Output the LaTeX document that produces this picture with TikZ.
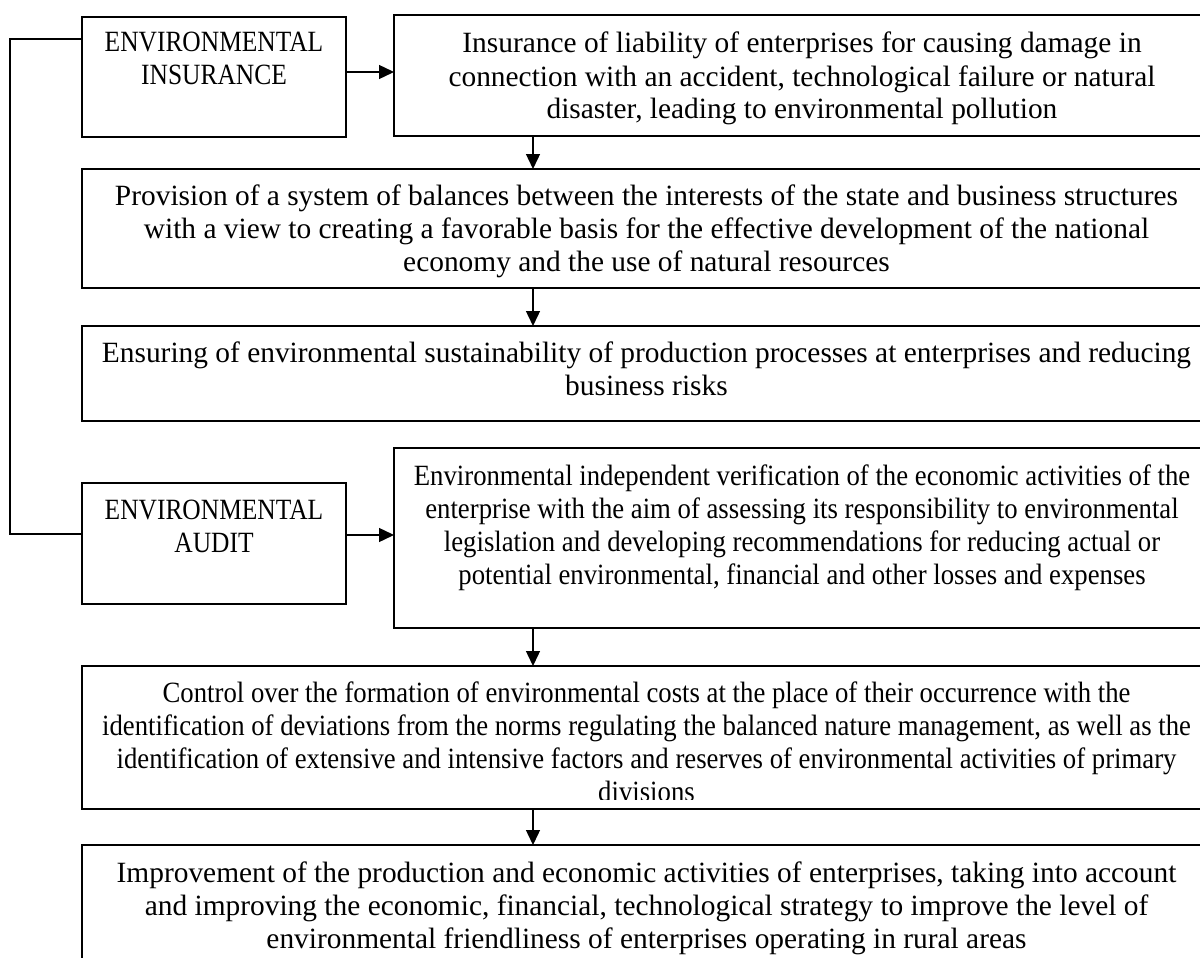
\documentclass[tikz,border=0pt]{standalone}
\usepackage{fontspec}
\setmainfont{Liberation Serif}
\newfontfamily\condfont[FakeStretch=0.909]{Liberation Serif}
\newfontfamily\labelfont[FakeStretch=0.866]{Liberation Serif}
\usetikzlibrary{arrows.meta,calc}
\begin{document}
\begin{tikzpicture}[x=1pt,y=-1pt,
  box/.style={draw,line width=1.4pt,inner sep=0pt,outer sep=0pt,anchor=north west},
  lbl/.style={inner sep=0pt,outer sep=0pt,anchor=base,font=\fontsize{29.4}{33}\selectfont},
  arr/.style={line width=1.4pt,-{Triangle[length=15pt,width=14pt]}},
  conn/.style={line width=1.4pt}]
\useasboundingbox (0,0) rectangle (1200,958);
\setlength{\tabcolsep}{0pt}
% boxes
\node[box,minimum width=264pt,minimum height=120pt] (ins) at (82,17) {};
\node[box,minimum width=816pt,minimum height=121pt] (b1) at (394,15) {};
\node[box,minimum width=1128pt,minimum height=119pt] (b2) at (82,169) {};
\node[box,minimum width=1128pt,minimum height=95pt] (b3) at (82,326) {};
\node[box,minimum width=264pt,minimum height=121pt] (aud) at (82,483) {};
\node[box,minimum width=816pt,minimum height=180pt] (b4) at (394,448) {};
\node[box,minimum width=1128pt,minimum height=143pt] (b5) at (82,666) {};
\node[box,minimum width=1128pt,minimum height=150pt] (b6) at (82,845) {};
% texts
\node[lbl] (tins) at (214,52) {\labelfont\begin{tabular}[t]{c}ENVIRONMENTAL\\INSURANCE\end{tabular}};
\node[lbl] (taud) at (214,519) {\labelfont\begin{tabular}[t]{c}ENVIRONMENTAL\\AUDIT\end{tabular}};
\node[lbl] (t1) at (802,53) {\begin{tabular}[t]{c}Insurance of liability of enterprises for causing damage in\\connection with an accident, technological failure or natural\\disaster, leading to environmental pollution\end{tabular}};
\node[lbl] (t2) at (646.5,205) {\begin{tabular}[t]{c}Provision of a system of balances between the interests of the state and business structures\\with a view to creating a favorable basis for the effective development of the national\\economy and the use of natural resources\end{tabular}};
\node[lbl] (t3) at (646.5,362) {\begin{tabular}[t]{c}Ensuring of environmental sustainability of production processes at enterprises and reducing\\business risks\end{tabular}};
\node[lbl] (t4) at (802,485) {\condfont\begin{tabular}[t]{c}Environmental independent verification of the economic activities of the\\enterprise with the aim of assessing its responsibility to environmental\\legislation and developing recommendations for reducing actual or\\potential environmental, financial and other losses and expenses\end{tabular}};
\begin{scope}
\clip (82,666) rectangle (1210,799);
\node[lbl] (t5) at (646.5,702) {\condfont\begin{tabular}[t]{c}Control over the formation of environmental costs at the place of their occurrence with the\\identification of deviations from the norms regulating the balanced nature management, as well as the\\identification of extensive and intensive factors and reserves of environmental activities of primary\\divisions\end{tabular}};
\end{scope}
\node[lbl] (t6) at (646.5,882) {\begin{tabular}[t]{c}Improvement of the production and economic activities of enterprises, taking into account\\and improving the economic, financial, technological strategy to improve the level of\\environmental friendliness of enterprises operating in rural areas\end{tabular}};
% connectors
\draw[arr] (ins.east |- 0,72) -- (b1.west |- 0,72);
\draw[arr] (aud.east |- 0,535) -- (b4.west |- 0,535);
\draw[arr] (b1.south -| 533,0) -- (b2.north -| 533,0);
\draw[arr] (b2.south -| 533,0) -- (b3.north -| 533,0);
\draw[arr] (b4.south -| 533,0) -- (b5.north -| 533,0);
\draw[arr] (b5.south -| 533,0) -- (b6.north -| 533,0);
\draw[conn] (ins.west |- 0,39) -- (10,39) -- (10,534) -- (aud.west |- 0,534);
\end{tikzpicture}
\end{document}
